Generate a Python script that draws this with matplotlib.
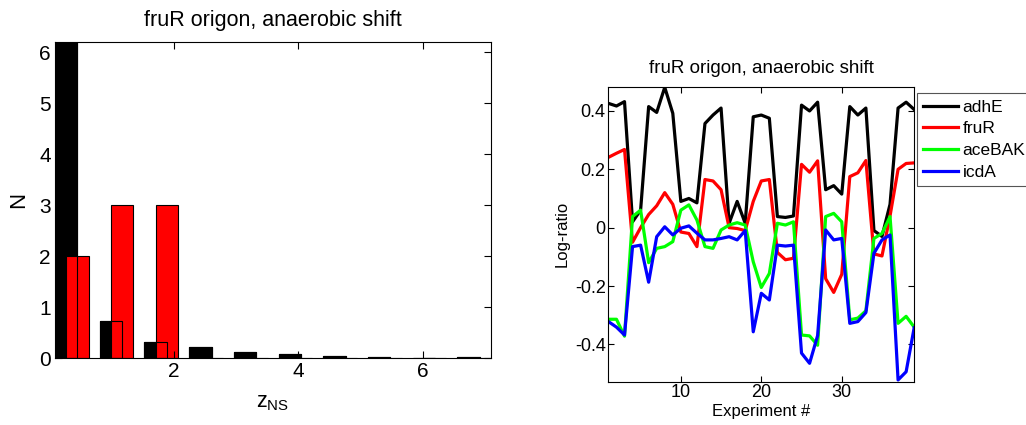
import numpy as np
import matplotlib
matplotlib.use("Agg")
from matplotlib import pyplot as plt

plt.rcParams['font.family'] = ['Liberation Sans', 'DejaVu Sans']

# left panel: histogram of z_NS (black = all, red = origon genes)
bin_centers = [0.275, 0.992, 1.709, 2.426, 3.143, 3.86, 4.577, 5.294, 6.011, 6.728]
black_counts = [9.0, 0.72, 0.31, 0.22, 0.12, 0.085, 0.045, 0.025, 0.005, 0.02]
red_counts = [2, 3, 3, 0, 0, 0, 0, 0, 0, 0]
red_shift = 0.18
bar_w = 0.36

# right panel: log-ratios over experiments
experiment = np.arange(1, 40)
adhE = [0.426, 0.417, 0.432, 0.02, 0.06, 0.415, 0.395, 0.481, 0.392, 0.09,
        0.10, 0.085, 0.357, 0.386, 0.41, 0.015, 0.09, 0.015, 0.38, 0.386,
        0.375, 0.038, 0.035, 0.04, 0.42, 0.40, 0.43, 0.13, 0.144, 0.115,
        0.415, 0.386, 0.41, -0.01, -0.03, 0.08, 0.41, 0.43, 0.405]
fruR = [0.241, 0.255, 0.268, -0.05, 0.0, 0.045, 0.075, 0.12, 0.08, -0.015,
        -0.02, -0.065, 0.165, 0.16, 0.13, 0.0, -0.003, -0.01, 0.09, 0.16,
        0.165, -0.085, -0.11, -0.105, 0.217, 0.19, 0.229, -0.175, -0.222, -0.16,
        0.175, 0.188, 0.23, -0.09, -0.097, 0.04, 0.2, 0.22, 0.222]
aceBAK = [-0.314, -0.314, -0.372, 0.038, 0.06, -0.12, -0.071, -0.065, -0.048, 0.06,
          0.078, 0.026, -0.065, -0.071, -0.008, 0.009, 0.017, 0.009, -0.117, -0.205,
          -0.157, 0.015, 0.009, 0.02, -0.368, -0.371, -0.403, 0.038, 0.049, 0.02,
          -0.316, -0.31, -0.285, -0.037, -0.02, 0.038, -0.328, -0.304, -0.341]
icdA = [-0.322, -0.341, -0.368, -0.065, -0.06, -0.187, -0.031, 0.003, -0.025, -0.002,
        0.006, -0.019, -0.042, -0.042, -0.037, -0.031, -0.042, -0.01, -0.357, -0.225,
        -0.248, -0.06, -0.063, -0.06, -0.43, -0.465, -0.37, -0.008, -0.042, -0.037,
        -0.328, -0.322, -0.291, -0.088, -0.042, -0.025, -0.522, -0.494, -0.343]

fig = plt.figure(figsize=(10.26, 4.25), dpi=100)

''' left panel '''
ax1 = fig.add_axes([0.0536, 0.1576, 0.425, 0.743])
red_centers = np.array(bin_centers) + red_shift
ax1.bar(bin_centers, black_counts, width=bar_w, color='black', edgecolor='black', linewidth=0.8)
ax1.bar(red_centers, red_counts, width=bar_w, color='red', edgecolor='black', linewidth=0.8)
# black bar outlines drawn over the red ones
ax1.bar(bin_centers, black_counts, width=bar_w, facecolor='none', edgecolor='black', linewidth=0.8)
ax1.set_xlim(bin_centers[0] - bar_w / 2, red_centers[-1] + bar_w / 2)
ax1.set_ylim(0, 6.2)
ax1.set_xticks([2, 4, 6])
ax1.set_yticks(range(7))
ax1.tick_params(direction='in', top=True, right=True, labelsize=15, length=5, pad=3)
ax1.set_xlabel(r'$\mathregular{z_{NS}}$', fontsize=15.5, labelpad=8)
ax1.set_ylabel('N', fontsize=16, labelpad=7)
ax1.set_title('fruR origon, anaerobic shift', fontsize=15.5, pad=12)

''' right panel '''
ax2 = fig.add_axes([0.593, 0.1019, 0.298, 0.694])
ax2.plot(experiment, adhE, color='black', lw=2.3, label='adhE')
ax2.plot(experiment, fruR, color='red', lw=2.3, label='fruR')
ax2.plot(experiment, aceBAK, color='#00ff00', lw=2.3, label='aceBAK')
ax2.plot(experiment, icdA, color='blue', lw=2.3, label='icdA')
ax2.set_xlim(1, 39)
ax2.set_ylim(-0.528, 0.483)
ax2.set_xticks([10, 20, 30])
ax2.set_yticks([-0.4, -0.2, 0, 0.2, 0.4])
ax2.set_yticklabels(['-0.4', '-0.2', '0', '0.2', '0.4'])
ax2.tick_params(direction='in', top=True, right=True, labelsize=13, length=4, pad=2)
ax2.set_xlabel('Experiment #', fontsize=12, labelpad=2)
ax2.set_ylabel('Log-ratio', fontsize=12, labelpad=4)
ax2.set_title('fruR origon, anaerobic shift', fontsize=13.5, pad=10)

leg = fig.legend(loc='upper left', bbox_to_anchor=(0.894, 0.780), borderaxespad=0,
                 fontsize=12.5, fancybox=False, framealpha=1, edgecolor='#555555',
                 handlelength=2.0, handletextpad=0.25, labelspacing=0.38, borderpad=0.35)
leg.get_frame().set_linewidth(0.8)

fig.savefig('out.png', dpi=100)
